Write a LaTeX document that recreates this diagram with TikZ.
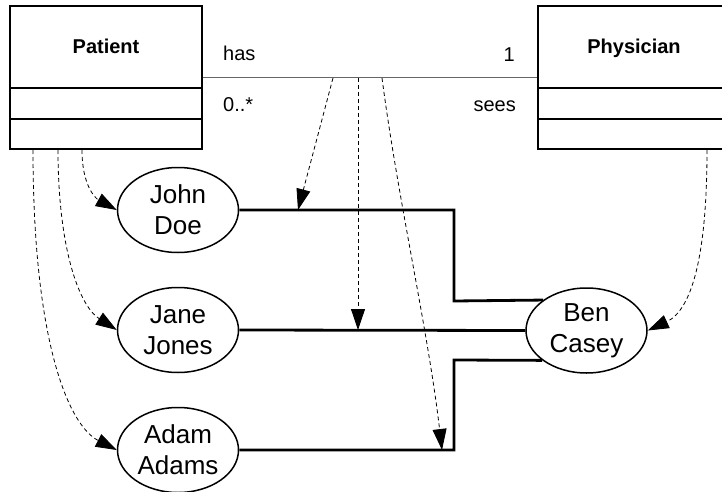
\documentclass[tikz,border=0pt]{standalone}
\usepackage{fontspec}
\setmainfont{Liberation Sans}
\usetikzlibrary{arrows.meta,shapes.geometric}
\begin{document}
\begin{tikzpicture}[x=1pt,y=-1pt,
  classbox/.style={draw,line width=1.6pt,minimum width=192pt,minimum height=143pt,inner sep=0pt},
  classname/.style={font=\fontsize{20}{24}\selectfont\bfseries,inner sep=0pt,anchor=base},
  rolelabel/.style={font=\fontsize{20}{24}\selectfont,inner sep=0pt},
  instance/.style={ellipse,draw,fill=white,line width=1.5pt,minimum width=121pt,minimum height=85pt,
    inner sep=0pt,align=center,font=\fontsize{26}{31}\selectfont},
  divider/.style={line width=1.6pt},
  assoc/.style={draw=black!60,line width=1pt},
  link/.style={line width=2.8pt},
  dep/.style={dash pattern=on 4pt off 3pt,line width=0.8pt,-{Triangle[length=21pt,width=14pt]}},
]
\clip (0,0) rectangle (722,492);

% class boxes with their compartments
\node[classbox] (patient) at (106,77.5) {};
\node[classname] (patientname) at (106,54) {Patient};
\draw[divider] (patient.west |- 0,88) -- (patient.east |- 0,88);
\draw[divider] (patient.west |- 0,119) -- (patient.east |- 0,119);

\node[classbox] (physician) at (634,77.5) {};
\node[classname] (physicianname) at (634,54) {Physician};
\draw[divider] (physician.west |- 0,88) -- (physician.east |- 0,88);
\draw[divider] (physician.west |- 0,119) -- (physician.east |- 0,119);

% association with role names and multiplicities
\draw[assoc] (patient.east |- 0,78) -- (physician.west |- 0,78);
\node[rolelabel,anchor=base west] (has) at (223,61) {has};
\node[rolelabel,anchor=base west] (many) at (223,112) {0..*};
\node[rolelabel,anchor=base east] (one) at (515,62) {1};
\node[rolelabel,anchor=base east] (sees) at (516,111) {sees};
\coordinate (a1) at (333,78);
\coordinate (a2) at (358,78);
\coordinate (a3) at (382,78);

% objects
\node[instance] (john) at (178,210) {John\\Doe};
\node[instance] (jane) at (178,330) {Jane\\Jones};
\node[instance] (adam) at (178,450) {Adam\\Adams};
\node[instance] (ben) at (586.5,330.5) {Ben\\Casey};

% links between the objects
\coordinate (j1) at (454,210);
\coordinate (j2) at (454,450);
\draw[link] (john.east) -- (j1) |- (454,301) -- (ben.145.9);
\draw[link] (jane.east) -- (ben.west);
\draw[link] (adam.east) -- (j2) |- (454,360) -- (ben.214.1);
\coordinate (l1) at (298,210);
\coordinate (l2) at (358,330);
\coordinate (l3) at (442,450);

% instance-of dependencies
\coordinate (p1) at (33,150);
\coordinate (p2) at (58,150);
\coordinate (p3) at (82,150);
\coordinate (d1) at (707,150);
\draw[dep] (p3) .. controls (82,185) and (95,198) .. (john.west);
\draw[dep] (p2) .. controls (58,245) and (78,305) .. (jane.west);
\draw[dep] (p1) .. controls (33,340) and (68,425) .. (adam.west);
\draw[dep] (d1) .. controls (707,255) and (692,310) .. (ben.east);
\draw[dep] (a1) -- (l1);
\draw[dep] (a2) -- (l2);
\draw[dep] (a3) .. controls (398,200) and (428,330) .. (l3);
\end{tikzpicture}
\end{document}
